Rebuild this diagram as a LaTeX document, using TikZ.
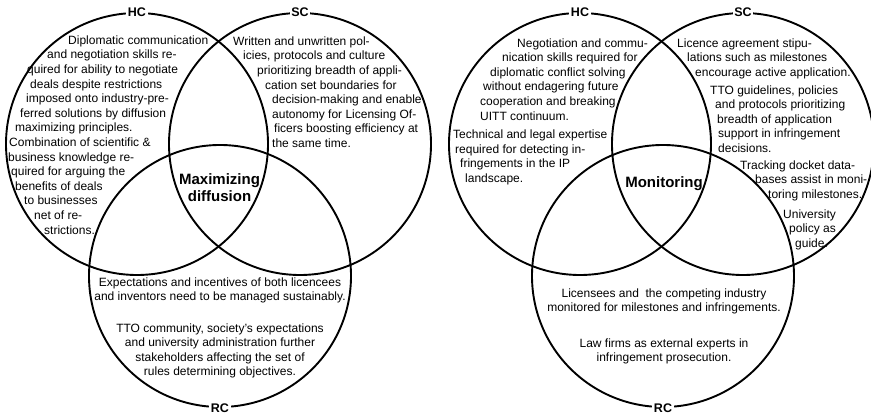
\documentclass[tikz,border=0pt]{standalone}
\usepackage{fontspec}
\setmainfont{Liberation Sans}
\begin{document}
\begin{tikzpicture}[x=1pt,y=-1pt,
venn/.style={circle,draw,line width=1.9pt,minimum size=262pt,inner sep=0pt},
tag/.style={fill=white,font=\bfseries\fontsize{12.5}{14}\selectfont,inner sep=1.5pt},
hub/.style={align=center,font=\bfseries\fontsize{15}{17}\selectfont},
shaped/.style={anchor=north west,align=left,inner sep=0pt},
block/.style={anchor=north,align=center,inner sep=0pt}]
\tikzstyle{every node}=[font=\fontsize{12}{14.6}\selectfont]
\useasboundingbox (0,0) rectangle (871,414);
% maximizing diffusion
\node[venn] (hcL) at (137,144) {};
\node[venn] (scL) at (300,144) {};
\node[venn] (rcL) at (220,276) {};
\node[tag] (hcLtag) at (hcL.north) {HC};
\node[tag] (scLtag) at (scL.north) {SC};
\node[tag] (rcLtag) at (rcL.south) {RC};
\node[hub] (maxdiff) at (219.5,187.5) {Maximizing\\[-0.5pt]diffusion};
\node[shaped] (hcLtext) at (8,35.5) {%
\hspace*{60pt}Diplomatic communication\\
\hspace*{39pt}and negotiation skills re-\\
\hspace*{19pt}quired for ability to negotiate\\
\hspace*{22pt}deals despite restrictions\\
\hspace*{18pt}imposed onto industry-pre-\\
\hspace*{12pt}ferred solutions by diffusion\\
\hspace*{7pt}maximizing principles.\\
\hspace*{1pt}Combination of scientific \&\\
business knowledge re-\\
\hspace*{3pt}quired for arguing the\\
\hspace*{7pt}benefits of deals\\
\hspace*{16pt}to businesses\\
\hspace*{26pt}net of re-\\
\hspace*{36pt}strictions.};
\node[shaped] (scLtext) at (233,36.5) {%
Written and unwritten pol-\\
\hspace*{10pt}icies, protocols and culture\\
\hspace*{24pt}prioritizing breadth of appli-\\
\hspace*{32pt}cation set boundaries for\\
\hspace*{39pt}decision-making and enable\\
\hspace*{39pt}autonomy for Licensing Of-\\
\hspace*{41pt}ficers boosting efficiency at\\
\hspace*{39pt}the same time.};
\node[block] (rcLtext) at (220,277.3) {%
Expectations and incentives of both licencees\\
and inventors need to be managed sustainably.\\[16.8pt]
TTO community, society's expectations\\
and university administration further\\
stakeholders affecting the set of\\
rules determining objectives.};
% monitoring
\node[venn] (hcR) at (580,144) {};
\node[venn] (scR) at (743,144) {};
\node[venn] (rcR) at (663,276) {};
\node[tag] (hcRtag) at (hcR.north) {HC};
\node[tag] (scRtag) at (scR.north) {SC};
\node[tag] (rcRtag) at (rcR.south) {RC};
\node[hub] (monitor) at (664,184) {Monitoring};
\node[shaped] (hcRtext) at (453,38.3) {%
\hspace*{64pt}Negotiation and commu-\\
\hspace*{49pt}nication skills required for\\
\hspace*{37pt}diplomatic conflict solving\\
\hspace*{30pt}without endagering future\\
\hspace*{27pt}cooperation and breaking\\
\hspace*{27pt}UITT continuum.\\[4pt]
Technical and legal expertise\\
\hspace*{2pt}required for detecting in-\\
\hspace*{7pt}fringements in the IP\\
\hspace*{12pt}landscape.};
\node[shaped] (scRtext) at (677,38.3) {%
Licence agreement stipu-\\
\hspace*{10pt}lations such as milestones\\
\hspace*{18pt}encourage active application.\\[3.2pt]
\hspace*{33pt}TTO guidelines, policies\\
\hspace*{38pt}and protocols prioritizing\\
\hspace*{40pt}breadth of application\\
\hspace*{41pt}support in infringement\\
\hspace*{41pt}decisions.\\[2pt]
\hspace*{63pt}Tracking docket data-\\
\hspace*{78pt}bases assist in moni-\\
\hspace*{91pt}toring milestones.\\[5.2pt]
\hspace*{106pt}University\\
\hspace*{112pt}policy as\\
\hspace*{118pt}guide.};
\node[block] (rcRtext) at (664,288.3) {%
Licensees and\ \ the competing industry\\
monitored for milestones and infringements.\\[20.8pt]
Law firms as external experts in\\
infringement prosecution.};
%\node[tag] at (0,0) {};
\end{tikzpicture}
\end{document}
